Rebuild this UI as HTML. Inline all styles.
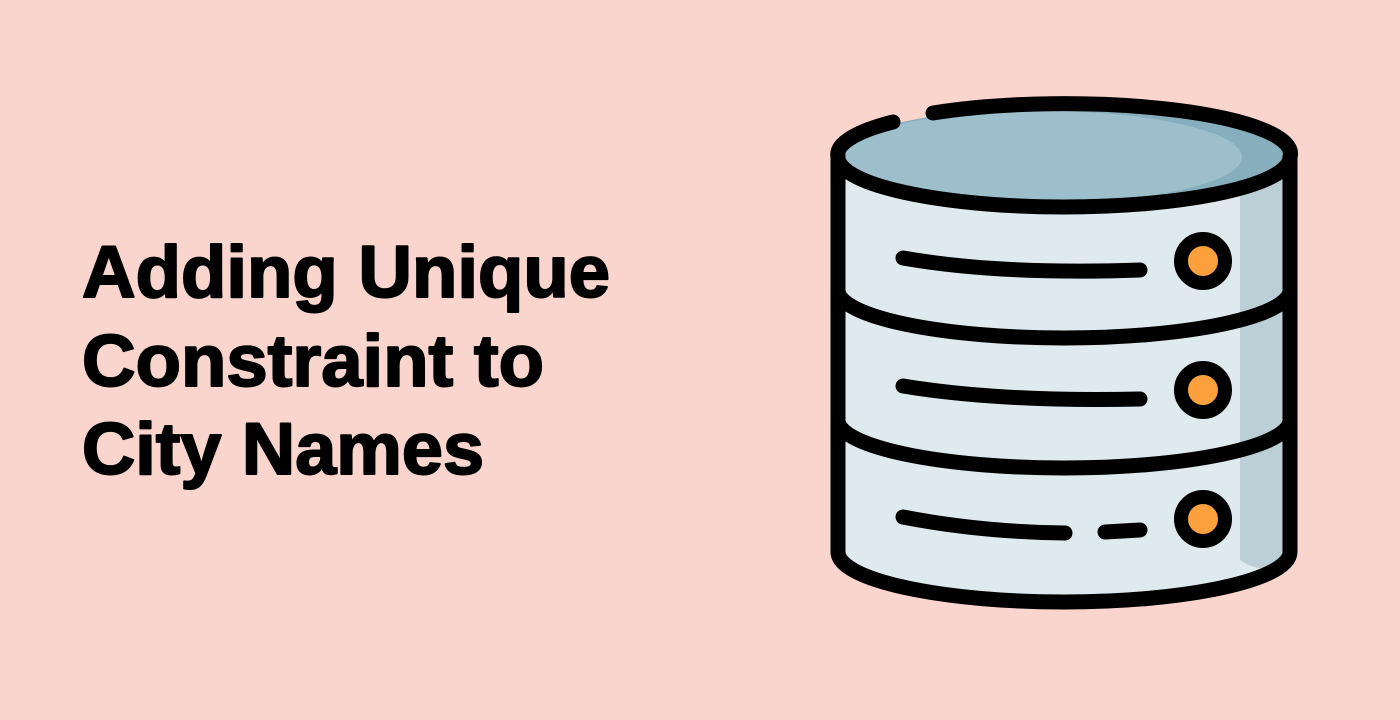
<!DOCTYPE html>
<html><head><meta charset="utf-8"><style>
html,body{margin:0;padding:0;background:#f9d5cd;width:1400px;height:720px;overflow:hidden}
</style></head><body>
<svg width="1400" height="720" viewBox="0 0 1400 720" xmlns="http://www.w3.org/2000/svg">
<rect width="1400" height="720" fill="#f9d5cd"/>
<g font-family="Liberation Sans, sans-serif" font-weight="bold" font-size="73" fill="#000" stroke="#000" stroke-width="2" stroke-linejoin="round">
<text x="82" y="297" textLength="528" lengthAdjust="spacingAndGlyphs">Adding Unique</text>
<text x="82" y="386" textLength="462" lengthAdjust="spacingAndGlyphs">Constraint to</text>
<text x="82" y="474" textLength="402" lengthAdjust="spacingAndGlyphs">City Names</text>
</g>
<path d="M838 157 L838 552 A226 50 0 0 0 1290 552 L1290 157 Z" fill="#dfeaee"/>
<path d="M1240 180 L1240 560 Q1270 580 1290 552 L1290 157 Z" fill="#bccfd6"/>
<ellipse cx="1064" cy="157" rx="226" ry="50" fill="#86aebd"/>
<ellipse cx="1040" cy="157" rx="202" ry="46" fill="#9dbfcc"/>
<g fill="none" stroke="#000" stroke-width="15" stroke-linecap="round">
<path d="M838 157 L838 552 A226 50 0 0 0 1290 552 L1290 157"/>
<path d="M838 157 A226 50 0 0 0 1290 157 A226 50 0 0 0 933 113"/>
<path d="M838 157 A226 50 0 0 1 893 122"/>
<path d="M838 290 A226 48 0 0 0 1290 290"/>
<path d="M838 420 A226 48 0 0 0 1290 420"/>
<path d="M903 258 Q1000 275 1140 270"/>
<path d="M903 386 Q1000 402 1140 399"/>
<path d="M903 517 Q980 532 1065 533"/>
<path d="M1105 532 L1140 530"/>
</g>
<g stroke="#000" stroke-width="14" fill="#fba03d">
<circle cx="1203" cy="261" r="22"/>
<circle cx="1203" cy="390" r="22"/>
<circle cx="1203" cy="519" r="22"/>
</g>
</svg>
</body></html>
